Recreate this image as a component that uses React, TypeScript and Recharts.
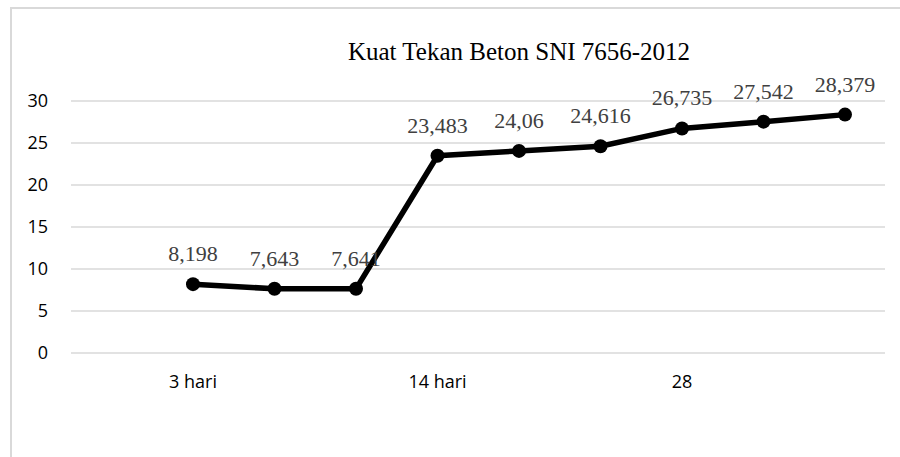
import { LineChart, Line, XAxis, YAxis, CartesianGrid, LabelList } from "recharts";

const categories = ["3 hari", "", "", "14 hari", "", "", "28", "", ""];
const strength = [8.198, 7.643, 7.641, 23.483, 24.06, 24.616, 26.735, 27.542, 28.379];
const yTicks = [0, 5, 10, 15, 20, 25, 30];

const data = categories.map((name, i) => ({ name, value: strength[i] }));

const fmt = (v: number) => String(v).replace(".", ",");

function PointLabel(props: any) {
  const { x, y, value } = props;
  return (
    <text
      x={x}
      y={y - 23}
      textAnchor="middle"
      fill="#404040"
      style={{ fontFamily: "'Liberation Serif', serif", fontSize: 22 }}
    >
      {fmt(value)}
    </text>
  );
}

export default function App() {
  return (
    <div style={{ position: "absolute", left: 0, top: 0, width: 900, height: 457, overflow: "hidden", background: "#fff" }}>
      <div
        style={{
          position: "absolute",
          left: 10,
          top: 7,
          width: 920,
          height: 480,
          border: "2px solid #d9d9d9",
        }}
      />
      <div
        style={{
          position: "absolute",
          left: 519,
          top: 39,
          transform: "translateX(-50%)",
          whiteSpace: "nowrap",
          fontFamily: "'Liberation Serif', serif",
          fontSize: 25,
          lineHeight: "25px",
          color: "#000",
        }}
      >
        Kuat Tekan Beton SNI 7656-2012
      </div>
      <div style={{ position: "absolute", left: 0, top: 0 }}>
        <LineChart width={900} height={457} data={data} margin={{ top: 101, right: 15, left: 0, bottom: 64 }}>
          <CartesianGrid vertical={false} stroke="#d9d9d9" strokeWidth={1.3} />
          <XAxis
            dataKey="name"
            interval={0}
            allowDuplicatedCategory
            axisLine={false}
            tickLine={false}
            tickSize={0}
            tickMargin={22}
            height={40}
            padding={{ left: 122, right: 40 }}
            tick={{ fill: "#000", fontSize: 18, fontFamily: "'Open Sans', sans-serif" }}
          />
          <YAxis
            domain={[0, 30]}
            ticks={yTicks}
            width={71}
            axisLine={false}
            tickLine={false}
            tickSize={0}
            tickMargin={23}
            tick={{ fill: "#000", fontSize: 18, fontFamily: "'Open Sans', sans-serif" }}
          />
          <Line
            type="linear"
            dataKey="value"
            stroke="#000"
            strokeWidth={5.5}
            dot={{ r: 7, fill: "#000", stroke: "none" }}
            activeDot={false}
            isAnimationActive={false}
          >
            <LabelList dataKey="value" content={PointLabel} />
          </Line>
        </LineChart>
      </div>
    </div>
  );
}
